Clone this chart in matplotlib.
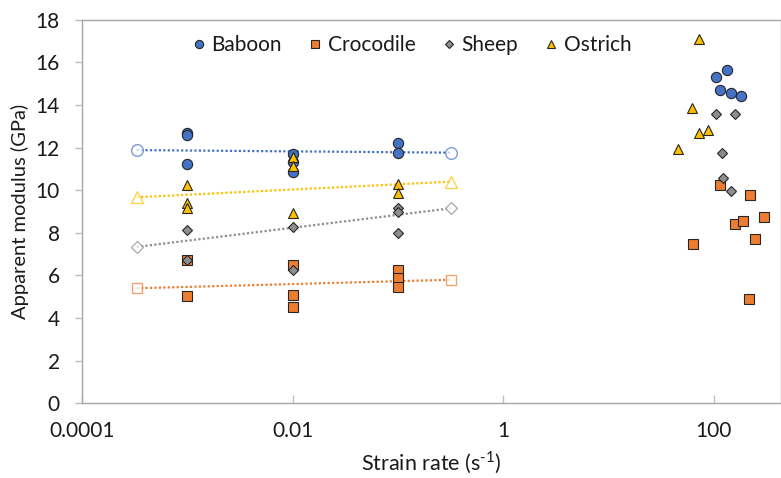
import numpy as np
import matplotlib
matplotlib.use('Agg')
import matplotlib.pyplot as plt
from matplotlib.ticker import FixedLocator, FixedFormatter, NullLocator

plt.rcParams['font.family'] = ['Lato', 'DejaVu Sans']
plt.rcParams['mathtext.fontset'] = 'custom'
plt.rcParams['mathtext.rm'] = 'Lato'

# strain rate (1/s) and apparent modulus (GPa)
baboon_x = [0.001, 0.001, 0.001, 0.01, 0.01, 0.01, 0.1, 0.1,
            106, 135, 116, 147, 182]
baboon_y = [12.69, 12.58, 11.25, 11.70, 11.30, 10.85, 12.19, 11.75,
            15.31, 15.63, 14.69, 14.58, 14.44]

croc_x = [0.001, 0.001, 0.01, 0.01, 0.01, 0.1, 0.1, 0.1,
          115, 222, 64, 159, 189, 298, 246, 217]
croc_y = [6.72, 5.02, 6.48, 5.08, 4.53, 6.25, 5.86, 5.47,
          10.23, 9.78, 7.48, 8.41, 8.55, 8.73, 7.69, 4.88]

sheep_x = [0.001, 0.001, 0.01, 0.01, 0.1, 0.1, 0.1,
           106, 158, 120, 122, 147]
sheep_y = [8.11, 6.72, 8.28, 6.25, 9.16, 8.98, 7.97,
           13.58, 13.58, 11.73, 10.55, 9.94]

ostrich_x = [0.001, 0.001, 0.001, 0.01, 0.01, 0.01, 0.1, 0.1,
             73, 62, 73, 88, 46]
ostrich_y = [10.23, 9.38, 9.16, 11.55, 11.15, 8.94, 10.28, 9.88,
             17.07, 13.86, 12.70, 12.81, 11.91]

# trend lines over the low-rate tests (start / end of the fitted range)
trend_x = [3.3e-4, 0.32]
baboon_trend = [11.88, 11.76]
croc_trend = [5.40, 5.80]
sheep_trend = [7.34, 9.15]
ostrich_trend = [9.67, 10.40]

series = [
    ('Baboon', baboon_x, baboon_y, baboon_trend, '#4472C4', 'o', 7.4),
    ('Crocodile', croc_x, croc_y, croc_trend, '#ED7D31', 's', 6.8),
    ('Sheep', sheep_x, sheep_y, sheep_trend, '#8E8E8E', 'D', 5.3),
    ('Ostrich', ostrich_x, ostrich_y, ostrich_trend, '#FFC000', '^', 7.6),
]

fig = plt.figure(figsize=(7.81, 4.78), dpi=100)
ax = fig.add_axes([0.105, 0.156, 0.895, 0.803])

for name, x, y, tr, col, mk, ms in series:
    ax.plot(trend_x, tr, linestyle=(0, (1, 1)), color=col, lw=1.6, zorder=1)
    ax.plot(trend_x, tr, linestyle='none', marker=mk, ms=ms + 1, mfc='white',
            mec=col, mew=1.0, alpha=0.7, zorder=2)

for name, x, y, tr, col, mk, ms in series:
    ax.plot(x, y, linestyle='none', marker=mk, ms=ms, mfc=col,
            mec='#262626', mew=0.8, label=name, zorder=3)

ax.set_xscale('log')
ax.set_xlim(1e-4, 10 ** 2.64)
ax.set_ylim(0, 18)

xt = [1e-4, 1e-2, 1, 100]
ax.xaxis.set_major_locator(FixedLocator(xt))
ax.xaxis.set_major_formatter(FixedFormatter(['0.0001', '0.01', '1', '100']))
ax.xaxis.set_minor_locator(NullLocator())
ax.set_yticks(np.arange(0, 19, 2))

ax.tick_params(axis='x', direction='in', length=6, width=1, color='#BFBFBF',
               labelsize=15, pad=13, labelcolor='#1a1a1a')
ax.tick_params(axis='y', direction='out', length=5, width=1, color='#BFBFBF',
               labelsize=15, pad=11, labelcolor='#1a1a1a')
for s in ax.spines.values():
    s.set_color('#A6A6A6')
    s.set_linewidth(1.0)

ax.set_xlabel('Strain rate (s$^{\\mathregular{\u2010}1}$)', fontsize=15.5,
              color='#1a1a1a', labelpad=6)
ax.set_ylabel('Apparent modulus (GPa)', fontsize=14.5, color='#1a1a1a',
              labelpad=5)

leg = ax.legend(loc='center', bbox_to_anchor=(0.469, 0.934), ncol=4,
                frameon=False, fontsize=15, markerscale=0.8,
                handletextpad=0.1, columnspacing=1.1, handlelength=1.0)
for t in leg.get_texts():
    t.set_color('#1a1a1a')

plt.savefig('out.png', dpi=100)
